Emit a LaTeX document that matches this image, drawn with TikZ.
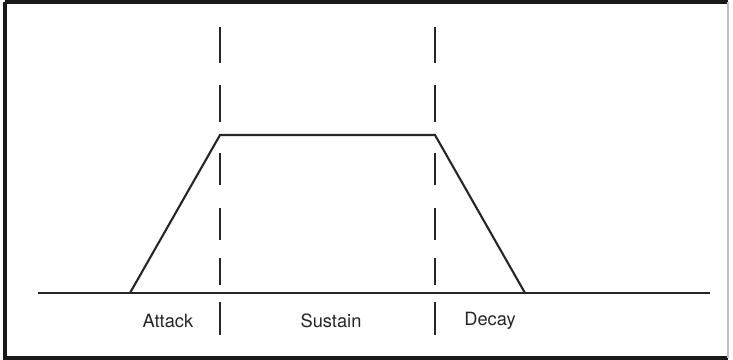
\documentclass[tikz,border=0pt]{standalone}
\usepackage{fontspec}
\setmainfont{TeX Gyre Heros}
\usetikzlibrary{calc}

\begin{document}
\begin{tikzpicture}[x=0.025cm,y=-0.025cm,line join=miter,font=\fontsize{13}{15}\selectfont,
  envline/.style={line width=1.5pt,black!85},
  phase/.style={line width=1.3pt,black!85},
  lbl/.style={inner sep=0pt,text=black!85}]
\useasboundingbox (0,0) rectangle (733,360);
% frame round the picture
\draw[line width=2.2pt,black!90] (5,2)--(5,358)--(728,358);
\draw[line width=2.2pt,black!90] (5,2)--(728,2);
\draw[line width=0.8pt,black!25] (728,2)--(728,358);
% time axis
\coordinate (T0) at (38,293);
\coordinate (T1) at (710,293);
\draw[envline] (T0)--(T1);
% envelope: attack, sustain, decay
\coordinate (S) at (130,293);
\coordinate (P) at (220,135);
\coordinate (Q) at (435,135);
\coordinate (E) at (525,293);
\draw[envline] (S)--(P)--(Q)--(E);
% phase borders (dashed)
\foreach \x in {220,435}{
  \foreach \a/\b in {27/63,85/122,153/185,208/240,258/285,302/335}
    \draw[phase] (\x,\a)--(\x,\b);
}
% phase names
\node[lbl] (attack) at (168,321) {Attack};
\node[lbl] (sustain) at (331,321) {Sustain};
\node[lbl] (decay) at (490,321) {Decay};
\end{tikzpicture}
\end{document}
